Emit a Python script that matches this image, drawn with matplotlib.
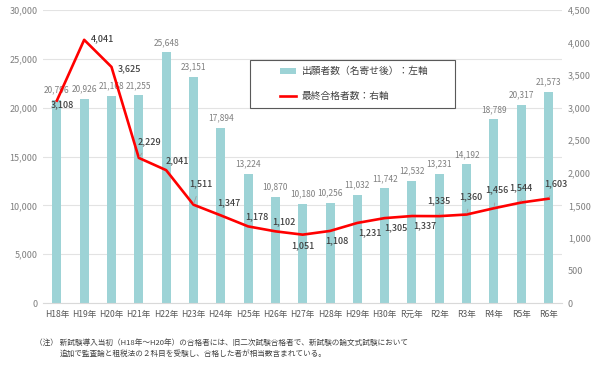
import matplotlib.pyplot as plt
from matplotlib.patches import Rectangle
import numpy as np

plt.rcParams['font.family'] = ['Noto Sans CJK JP', 'DejaVu Sans']

years = ['H18年', 'H19年', 'H20年', 'H21年', 'H22年', 'H23年', 'H24年', 'H25年', 'H26年',
         'H27年', 'H28年', 'H29年', 'H30年', 'R元年', 'R2年', 'R3年', 'R4年', 'R5年', 'R6年']
applicants = [20796, 20926, 21168, 21255, 25648, 23151, 17894, 13224, 10870,
              10180, 10256, 11032, 11742, 12532, 13231, 14192, 18789, 20317, 21573]
passers = [3108, 4041, 3625, 2229, 2041, 1511, 1347, 1178, 1102,
           1051, 1108, 1231, 1305, 1337, 1335, 1360, 1456, 1544, 1603]

# label offsets for the line values (points), (dx, dy, leader line)
line_offsets = [(4, -3, False), (13, 1, False), (13, -1, False), (8, 12, True), (8, 7, False),
                (5, 15, True), (6, 9, False), (6, 7, False), (6, 7, False),
                (0, -8, False), (5, -7, False), (9, -7, False), (8, -7, False), (9, -7, False),
                (0, 11, True), (3, 13, True), (2, 13, True), (0, 11, True), (5, 11, True)]

bar_color = '#9dd3d6'
grey = '#7f7f7f'

fig = plt.figure(figsize=(6, 3.67), dpi=100)
ax = fig.add_axes([0.072, 0.174, 0.865, 0.799])
ax2 = ax.twinx()

x = np.arange(len(years))
bars = ax.bar(x, applicants, width=0.33, color=bar_color, zorder=2,
              label='出願者数（名寄せ後）：左軸')
for xi, v in zip(x, applicants):
    ax.annotate(f'{v:,}', (xi, v), xytext=(0, 4), textcoords='offset points',
                ha='center', va='bottom', fontsize=6, color=grey)

line, = ax2.plot(x, passers, color='#ff0000', lw=1.9, zorder=3,
                 label='最終合格者数：右軸')
for xi, v, (dx, dy, lead) in zip(x, passers, line_offsets):
    ax2.annotate(f'{v:,}', (xi, v), xytext=(dx, dy), textcoords='offset points',
                 ha='center', va='center', fontsize=6.5, color='#404040', fontweight='medium',
                 arrowprops=dict(arrowstyle='-', color='#a0a0a0', lw=0.6,
                                 shrinkA=4, shrinkB=1) if lead else None)

ax.set_xlim(-0.5, len(years) - 0.5)
ax.set_ylim(0, 30000)
ax2.set_ylim(0, 4500)
ax.set_yticks(np.arange(0, 30001, 5000))
ax2.set_yticks(np.arange(0, 4501, 500))
ax.yaxis.set_major_formatter(plt.FuncFormatter(lambda v, p: f'{int(v):,}'))
ax2.yaxis.set_major_formatter(plt.FuncFormatter(lambda v, p: f'{int(v):,}'))
ax.set_xticks(x)
ax.set_xticklabels(years)

for a in (ax, ax2):
    for s in a.spines.values():
        s.set_visible(False)
    a.tick_params(length=0, labelsize=6.5, colors=grey, pad=4)
ax.tick_params(axis='x', colors='#595959', labelsize=6.2, pad=5)
ax.grid(axis='y', color='#e3e3e3', lw=0.8, zorder=0)
ax.set_axisbelow(True)
ax.spines['bottom'].set_visible(True)
ax.spines['bottom'].set_color('#d9d9d9')

# legend box drawn separately so the padding can be wider than tall
fig.patches.append(Rectangle((0.417, 0.706), 0.342, 0.131, transform=fig.transFigure,
                             fill=True, facecolor='white', edgecolor='#595959', lw=0.8,
                             zorder=5))
leg = fig.legend(handles=[bars, line], loc='center left',
                 bbox_to_anchor=(0.467, 0.772), fontsize=7, frameon=False,
                 borderpad=0, borderaxespad=0, labelspacing=1.5, handlelength=1.6,
                 handleheight=0.6, handletextpad=0.6)
leg.set_zorder(6)
for t in leg.get_texts():
    t.set_color('#404040')

fig.text(0.058, 0.06, '（注） 新試験導入当初（H18年～H20年）の合格者には、旧二次試験合格者で、新試験の論文式試験において',
         fontsize=5.5, color='#404040')
fig.text(0.1, 0.03, '追加で監査論と租税法の２科目を受験し、合格した者が相当数含まれている。',
         fontsize=5.5, color='#404040')

fig.savefig('out.png', dpi=100)
